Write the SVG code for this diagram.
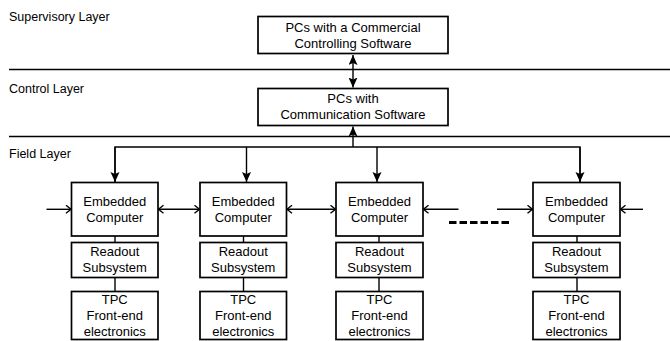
<svg xmlns="http://www.w3.org/2000/svg" width="670" height="341" viewBox="0 0 670 341">
<style>
  .box { fill: #fff; stroke: #000; stroke-width: 1.7; }
  .ln { fill: none; stroke: #000; stroke-width: 1.4; }
  .t { font-family: "Liberation Sans", Arial, sans-serif; font-size: 13px; fill: #000; text-anchor: middle; }
  .lbl { font-family: "Liberation Sans", Arial, sans-serif; font-size: 12.5px; fill: #000; }
</style>
<defs>
  <marker id="fa" markerUnits="userSpaceOnUse" markerWidth="11" markerHeight="10" refX="10" refY="4.5" orient="auto-start-reverse">
    <path d="M0,0 L10,4.5 L0,9 L2,4.5 z" fill="#000"/>
  </marker>
  <marker id="va" markerUnits="userSpaceOnUse" markerWidth="8" markerHeight="10" refX="6" refY="4.5" orient="auto-start-reverse">
    <path d="M1,0.5 L6,4.5 L1,8.5" fill="none" stroke="#000" stroke-width="1.4"/>
  </marker>
</defs>

<g id="layers">
  <line class="ln" x1="9" y1="69.5" x2="670" y2="69.5"/>
  <line class="ln" x1="9" y1="136.5" x2="670" y2="136.5"/>
  <text class="lbl" x="9" y="20.5">Supervisory Layer</text>
  <text class="lbl" x="9" y="93">Control Layer</text>
  <text class="lbl" x="9" y="157.5">Field Layer</text>
</g>

<g id="connectors">
  <line class="ln" x1="353" y1="55" x2="353" y2="87.5" marker-start="url(#fa)" marker-end="url(#fa)"/>
  <line class="ln" x1="353" y1="147" x2="353" y2="126.5" marker-end="url(#fa)"/>
  <polyline class="ln" points="115,182 115,147 580,147 580,182"/>
  <line class="ln" x1="115" y1="147" x2="115" y2="182" marker-end="url(#fa)"/>
  <line class="ln" x1="246.5" y1="147" x2="246.5" y2="182" marker-end="url(#fa)"/>
  <line class="ln" x1="377" y1="147" x2="377" y2="182" marker-end="url(#fa)"/>
  <line class="ln" x1="580" y1="147" x2="580" y2="182" marker-end="url(#fa)"/>
  <line class="ln" x1="46.5" y1="209.3" x2="71" y2="209.3" marker-end="url(#va)"/>
  <line class="ln" x1="158.5" y1="209.3" x2="199.5" y2="209.3" marker-start="url(#va)" marker-end="url(#va)"/>
  <line class="ln" x1="287" y1="209.3" x2="335.5" y2="209.3" marker-start="url(#va)" marker-end="url(#va)"/>
  <line class="ln" x1="458.5" y1="209.3" x2="423.5" y2="209.3" marker-end="url(#va)"/>
  <line class="ln" x1="497" y1="209.3" x2="532.5" y2="209.3" marker-end="url(#va)"/>
  <line class="ln" x1="643" y1="209.3" x2="620.5" y2="209.3" marker-end="url(#va)"/>
  <line x1="449" y1="222.5" x2="509" y2="222.5" stroke="#000" stroke-width="3" stroke-dasharray="7.5 3"/>
  <line class="ln" x1="115" y1="236" x2="115" y2="242.5"/>
  <line class="ln" x1="115" y1="277.5" x2="115" y2="291.5"/>
  <line class="ln" x1="243.5" y1="236" x2="243.5" y2="242.5"/>
  <line class="ln" x1="243.5" y1="277.5" x2="243.5" y2="291.5"/>
  <line class="ln" x1="379" y1="236" x2="379" y2="242.5"/>
  <line class="ln" x1="379" y1="277.5" x2="379" y2="291.5"/>
  <line class="ln" x1="577" y1="236" x2="577" y2="242.5"/>
  <line class="ln" x1="577" y1="277.5" x2="577" y2="291.5"/>
</g>

<g id="supervisory">
  <rect class="box" x="258" y="16.5" width="190" height="37"/>
  <text class="t" x="353" y="31.5">PCs with a Commercial</text>
  <text class="t" x="353" y="47.5">Controlling Software</text>
</g>
<g id="control">
  <rect class="box" x="258" y="88.5" width="190" height="37"/>
  <text class="t" x="353" y="103.3">PCs with</text>
  <text class="t" x="353" y="119">Communication Software</text>
</g>

<g id="ec1"><rect class="box" x="71.5" y="182.5" width="86.5" height="53.5"/><text class="t" x="114.75" y="205.7">Embedded</text><text class="t" x="114.75" y="221.7">Computer</text></g>
<g id="ro1"><rect class="box" x="71.5" y="242.5" width="86.5" height="35"/><text class="t" x="114.75" y="256">Readout</text><text class="t" x="114.75" y="271.5">Subsystem</text></g>
<g id="tpc1"><rect class="box" x="71.5" y="291.5" width="86.5" height="48"/><text class="t" x="114.75" y="304">TPC</text><text class="t" x="114.75" y="320">Front-end</text><text class="t" x="114.75" y="335.5">electronics</text></g>

<g id="ec2"><rect class="box" x="200" y="182.5" width="86.5" height="53.5"/><text class="t" x="243.25" y="205.7">Embedded</text><text class="t" x="243.25" y="221.7">Computer</text></g>
<g id="ro2"><rect class="box" x="200" y="242.5" width="86.5" height="35"/><text class="t" x="243.25" y="256">Readout</text><text class="t" x="243.25" y="271.5">Subsystem</text></g>
<g id="tpc2"><rect class="box" x="200" y="291.5" width="86.5" height="48"/><text class="t" x="243.25" y="304">TPC</text><text class="t" x="243.25" y="320">Front-end</text><text class="t" x="243.25" y="335.5">electronics</text></g>

<g id="ec3"><rect class="box" x="336" y="182.5" width="87" height="53.5"/><text class="t" x="379.5" y="205.7">Embedded</text><text class="t" x="379.5" y="221.7">Computer</text></g>
<g id="ro3"><rect class="box" x="336" y="242.5" width="87" height="35"/><text class="t" x="379.5" y="256">Readout</text><text class="t" x="379.5" y="271.5">Subsystem</text></g>
<g id="tpc3"><rect class="box" x="336" y="291.5" width="87" height="48"/><text class="t" x="379.5" y="304">TPC</text><text class="t" x="379.5" y="320">Front-end</text><text class="t" x="379.5" y="335.5">electronics</text></g>

<g id="ec4"><rect class="box" x="533" y="182.5" width="87" height="53.5"/><text class="t" x="576.5" y="205.7">Embedded</text><text class="t" x="576.5" y="221.7">Computer</text></g>
<g id="ro4"><rect class="box" x="533" y="242.5" width="87" height="35"/><text class="t" x="576.5" y="256">Readout</text><text class="t" x="576.5" y="271.5">Subsystem</text></g>
<g id="tpc4"><rect class="box" x="533" y="291.5" width="87" height="48"/><text class="t" x="576.5" y="304">TPC</text><text class="t" x="576.5" y="320">Front-end</text><text class="t" x="576.5" y="335.5">electronics</text></g>
</svg>
